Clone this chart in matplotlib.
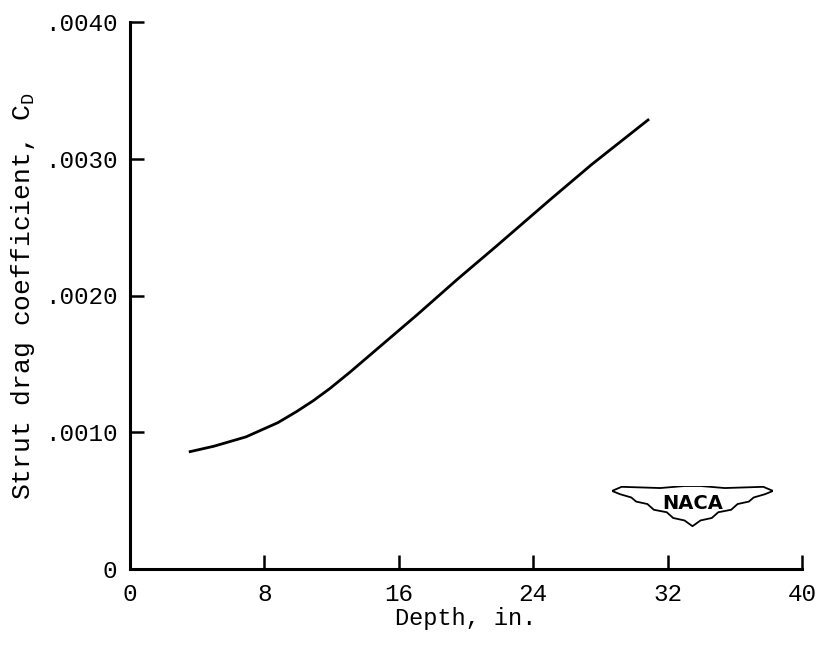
import matplotlib
matplotlib.use("Agg")
import matplotlib.pyplot as plt
from matplotlib.patches import Polygon

# ── DATA ─────────────────────────────────────────────────────────────────────
depth_in = [3.5, 5.0, 6.9, 8.8, 9.9, 10.9, 11.9, 13.1, 15.1, 17.1, 19.5,
            21.8, 25.0, 27.5, 30.9]
drag_cd = [0.000856, 0.000898, 0.000966, 0.00107, 0.00115, 0.00123, 0.00132,
           0.00144, 0.00165, 0.00186, 0.00212, 0.00236, 0.00270, 0.00296,
           0.00329]

x_ticks = [0, 8, 16, 24, 32, 40]
x_tick_labels = ["0", "8", "16", "24", "32", "40"]
y_ticks = [0, 0.001, 0.002, 0.003, 0.004]
y_tick_labels = ["0", ".0010", ".0020", ".0030", ".0040"]

plt.rcParams["font.family"] = ["Liberation Mono", "DejaVu Sans Mono"]
plt.rcParams["mathtext.fontset"] = "custom"
plt.rcParams["mathtext.rm"] = "Liberation Mono"

fig = plt.figure(figsize=(8.29, 6.47), dpi=100)
ax = fig.add_axes([130 / 829, 1 - 569 / 647, 672 / 829, 547 / 647])

ax.plot(depth_in, drag_cd, color="black", linewidth=2.0,
        solid_capstyle="butt", solid_joinstyle="round")

ax.set_xlim(0, 40)
ax.set_ylim(0, 0.004)
ax.set_xticks(x_ticks, x_tick_labels)
ax.set_yticks(y_ticks, y_tick_labels)
ax.tick_params(direction="in", length=10, width=1.8, labelsize=17.5,
               color="black")
ax.tick_params(axis="x", pad=10)
ax.tick_params(axis="y", pad=9)

for side in ["top", "right"]:
    ax.spines[side].set_visible(False)
for side in ["left", "bottom"]:
    ax.spines[side].set_linewidth(2.2)

ax.set_xlabel("Depth, in.", fontsize=17, labelpad=1)
ax.set_ylabel(r"Strut drag coefficient, C$_\mathregular{D}$", fontsize=19,
              labelpad=6)

# ── NACA wing logo ───────────────────────────────────────────────────────────
logo = fig.add_axes([612 / 829, 1 - 527 / 647, 161 / 829, 41 / 647])
logo.set_xlim(0, 1)
logo.set_ylim(0, 1)
logo.axis("off")
wing = [(0.0, 0.88), (0.06, 0.98), (0.3, 0.95), (0.45, 1.0), (0.55, 1.0),
        (0.7, 0.95), (0.94, 0.98), (1.0, 0.88), (0.95, 0.80), (0.88, 0.72),
        (0.85, 0.62), (0.78, 0.56), (0.74, 0.42), (0.66, 0.36), (0.62, 0.22),
        (0.55, 0.16), (0.5, 0.02), (0.45, 0.16), (0.38, 0.22), (0.34, 0.36),
        (0.26, 0.42), (0.22, 0.56), (0.15, 0.62), (0.12, 0.72), (0.05, 0.80)]
logo.add_patch(Polygon(wing, closed=True, facecolor="white",
                       edgecolor="black", linewidth=1.3))
logo.text(0.5, 0.58, "NACA", ha="center", va="center", fontsize=14,
          fontweight="bold", family="DejaVu Sans")

fig.savefig("out.png", dpi=100)
